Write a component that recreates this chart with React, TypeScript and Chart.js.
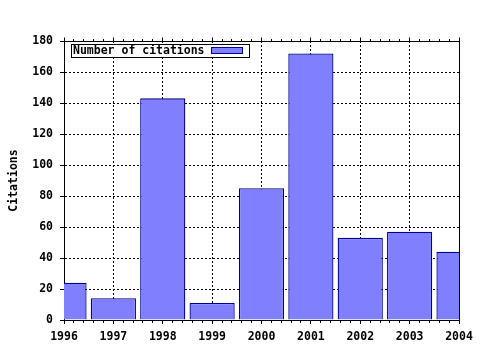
import React, { useEffect, useRef } from "react";
import { Chart, registerables } from "chart.js";

Chart.register(...registerables);

const years = [1996, 1997, 1998, 1999, 2000, 2001, 2002, 2003, 2004];
const citations = [24, 14, 143, 11, 85, 172, 53, 57, 44];
const seriesLabel = "Number of citations";
const yTitle = "Citations";
const yMin = 0;
const yMax = 180;
const yStep = 20;

const FONT_FAMILY = "'DejaVu Sans Mono', monospace";
const FONT_SIZE = 11.5;
const BAR_FILL = "#8080ff";
const BAR_EDGE = "#000090";

const align = (v: number) => Math.round(v - 0.5) + 0.5;

const framePlugin = {
  id: "frame",
  afterDatasetsDraw(chart: any) {
    const ctx = chart.ctx as CanvasRenderingContext2D;
    const { left, right, top, bottom } = chart.chartArea;
    const xs = chart.scales.x;
    ctx.save();
    ctx.strokeStyle = "#000";
    ctx.lineWidth = 1;
    ctx.setLineDash([]);
    ctx.beginPath();
    ctx.moveTo(align(left), align(top));
    ctx.lineTo(align(right), align(top));
    ctx.lineTo(align(right), align(bottom));
    ctx.stroke();
    const first = years[0];
    const last = years[years.length - 1];
    const n = (last - first) * 5;
    ctx.beginPath();
    for (let i = 0; i <= n; i++) {
      const v = first + i / 5;
      const px = align(xs.getPixelForValue(v));
      if (i % 5 === 0) {
        ctx.moveTo(px, align(top) - 4);
        ctx.lineTo(px, align(top) + 1);
      } else {
        ctx.moveTo(px, align(top) - 2.5);
        ctx.lineTo(px, align(top));
        ctx.moveTo(px, align(bottom));
        ctx.lineTo(px, align(bottom) + 2.5);
      }
    }
    ctx.stroke();
    ctx.restore();
  },
  afterDraw(chart: any) {
    const ctx = chart.ctx as CanvasRenderingContext2D;
    const ds = chart.data.datasets[0];
    ctx.save();
    ctx.setLineDash([]);
    const bx = 71.5, by = 44.5, bw = 178, bh = 13;
    ctx.fillStyle = "#fff";
    ctx.fillRect(bx, by, bw, bh);
    ctx.strokeStyle = "#000";
    ctx.lineWidth = 1;
    ctx.strokeRect(bx, by, bw, bh);
    ctx.fillStyle = "#000";
    ctx.font = `bold ${FONT_SIZE}px ${FONT_FAMILY}`;
    ctx.textBaseline = "middle";
    ctx.textAlign = "left";
    ctx.fillText(ds.label, 73, by + bh / 2 + 0.5);
    ctx.fillStyle = ds.backgroundColor;
    ctx.fillRect(211.5, 47.5, 31, 6);
    ctx.strokeStyle = ds.borderColor;
    ctx.strokeRect(211.5, 47.5, 31, 6);
    ctx.restore();
  },
};

export default function App() {
  const ref = useRef<HTMLCanvasElement>(null);
  useEffect(() => {
    if (!ref.current) return;
    const font = { family: FONT_FAMILY, size: FONT_SIZE, weight: "bold" as const };
    const chart = new Chart(ref.current, {
      type: "bar",
      data: {
        datasets: [
          {
            label: seriesLabel,
            data: years.map((y, i) => ({ x: y, y: citations[i] })),
            backgroundColor: BAR_FILL,
            borderColor: BAR_EDGE,
            borderWidth: 1.3,
            borderSkipped: "start",
            inflateAmount: 0,
            categoryPercentage: 1,
            barPercentage: 0.915,
            clip: 0,
          } as any,
        ],
      },
      options: {
        responsive: false,
        animation: false,
        events: [],
        layout: { padding: { left: 0, top: 41, right: 21, bottom: 0 } },
        plugins: { legend: { display: false }, tooltip: { enabled: false } },
        scales: {
          x: {
            type: "linear",
            min: years[0],
            max: years[years.length - 1],
            offset: false,
            grid: {
              offset: false,
              color: "#000",
              lineWidth: 1,
              drawTicks: true,
              tickLength: 4,
              tickColor: "#000",
            },
            border: { display: true, color: "#000", dash: [2, 2] },
            ticks: {
              stepSize: 1,
              autoSkip: false,
              maxRotation: 0,
              color: "#000",
              font,
              padding: 6,
              callback: (v: any) => String(v),
            },
            afterFit: (s: any) => {
              s.height = 30;
            },
          },
          y: {
            min: yMin,
            max: yMax,
            grid: {
              color: "#000",
              lineWidth: 1,
              drawTicks: true,
              tickLength: 4,
              tickColor: "#000",
            },
            border: { display: true, color: "#000", dash: [2, 2] },
            ticks: { stepSize: yStep, color: "#000", font, padding: 7 },
            title: {
              display: true,
              text: yTitle,
              color: "#000",
              font,
              padding: { top: 7, bottom: 0 },
            },
            afterFit: (s: any) => {
              s.width = 64;
            },
          },
        },
      } as any,
      plugins: [framePlugin],
    });
    return () => chart.destroy();
  }, []);
  return (
    <canvas
      ref={ref}
      width={480}
      height={350}
      style={{ position: "fixed", left: 0, top: 0, width: 480, height: 350, background: "#fff" }}
    />
  );
}
